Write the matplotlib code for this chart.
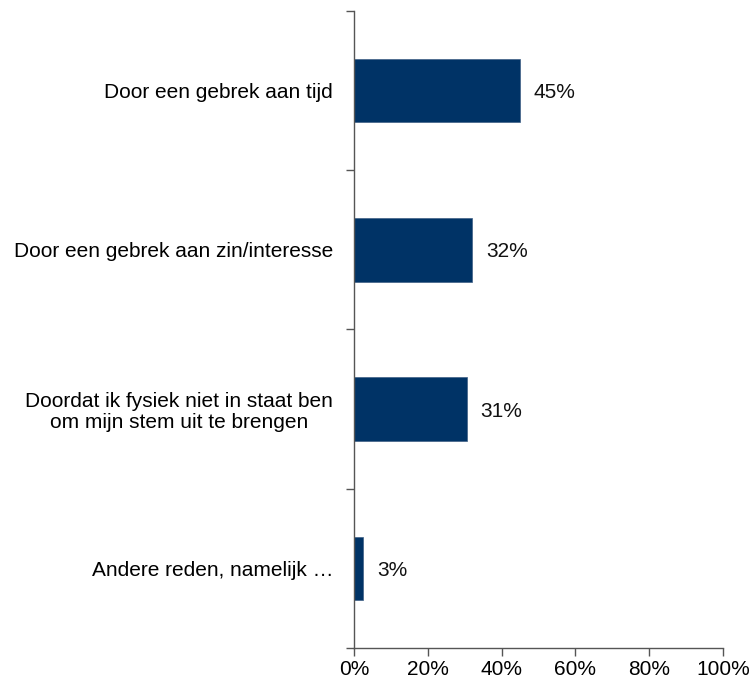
import matplotlib.pyplot as plt
from matplotlib.ticker import FixedLocator, PercentFormatter

categories = [
    "Door een gebrek aan tijd",
    "Door een gebrek aan zin/interesse",
    "Doordat ik fysiek niet in staat ben\nom mijn stem uit te brengen",
    "Andere reden, namelijk \u2026",
]
values = [45, 32, 30.5, 2.5]
value_labels = ["45%", "32%", "31%", "3%"]
xticks = [0, 20, 40, 60, 80, 100]

plt.rcParams['font.family'] = ['Liberation Sans', 'DejaVu Sans']
FS = 15

fig = plt.figure(figsize=(7.52, 6.87), dpi=100)
ax = fig.add_axes([0.4707, 0.0568, 0.4907, 0.9272])

pos = list(range(len(categories)))
ax.barh(pos, values, height=0.4, color='#003366', edgecolor='#3f5f85', linewidth=0.5)

for y, v, lab in zip(pos, values, value_labels):
    ax.annotate(lab, (v, y), xytext=(10, -1.5), textcoords='offset points',
                va='center', ha='left', fontsize=FS, color='#111111')

ax.set_xlim(0, 100)
ax.set_ylim(len(categories) - 0.5, -0.5)
ax.set_xticks(xticks)
ax.xaxis.set_major_formatter(PercentFormatter(decimals=0))
ax.set_yticks(pos)
ax.set_yticklabels(categories, fontsize=FS, ha='right', multialignment='center',
                   linespacing=1.1)
ax.yaxis.set_minor_locator(FixedLocator([p - 0.5 for p in pos] + [pos[-1] + 0.5]))

for s in ['top', 'right']:
    ax.spines[s].set_visible(False)
for s in ['left', 'bottom']:
    ax.spines[s].set_color('#555555')
    ax.spines[s].set_linewidth(1.0)

ax.tick_params(axis='y', which='major', length=0, pad=15)
ax.tick_params(axis='y', which='minor', length=6, color='#555555', width=1)
ax.tick_params(axis='x', length=6, color='#555555', width=1, labelsize=FS, pad=3)

fig.savefig('out.png', dpi=100)
